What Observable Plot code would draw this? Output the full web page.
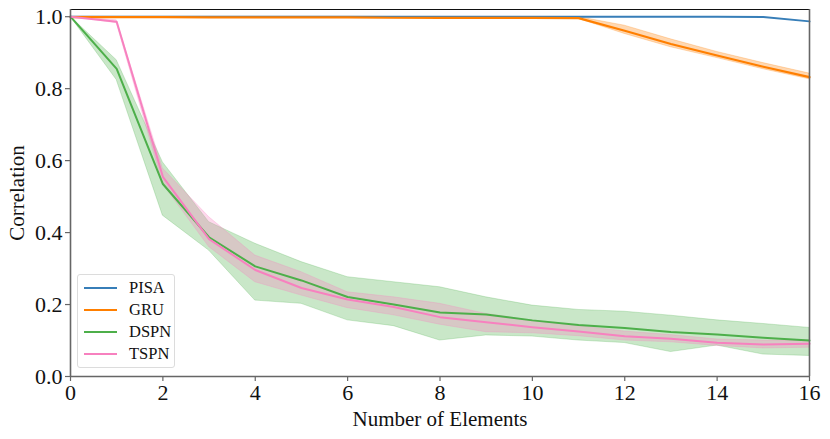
<!DOCTYPE html>
<html>
<head>
<meta charset="utf-8">
<script src="https://cdn.jsdelivr.net/npm/d3@7"></script>
<script src="https://cdn.jsdelivr.net/npm/@observablehq/plot@0.6"></script>
<style>
  html, body { margin: 0; padding: 0; background: #fff; }
  #wrap { position: relative; width: 830px; height: 439px; font-family: "Liberation Serif", "Times New Roman", Times, serif; }
  .legend { position: absolute; left: 77px; top: 274px; width: 98px; height: 94px;
    border: 1px solid #dcdcdc; border-radius: 3px; background: rgba(255,255,255,0.85);
    font-family: "Liberation Serif", "Times New Roman", Times, serif; font-size: 16.5px; color: #111; box-sizing: border-box; }
  .legend .sw { position: absolute; left: 6px; width: 33px; height: 0; border-top: 2px solid; }
  .legend .lab { position: absolute; left: 51px; white-space: nowrap; line-height: 20px; }
  svg text { font-family: "Liberation Serif", "Times New Roman", Times, serif; }
</style>
</head>
<body>
<div id="wrap"></div>
<script>
const xs = [0, 1, 2, 3, 4, 5, 6, 7, 8, 9, 10, 11, 12, 13, 14, 15, 16];
const seriesNames = ["PISA", "GRU", "DSPN", "TSPN"];
const seriesColors = ["#377eb8", "#ff7f00", "#4daf4a", "#f781bf"];
const xLabel = "Number of Elements";
const yLabel = "Correlation";

const pisa   = [1.0, 1.0, 1.0, 1.0, 1.0, 1.0, 1.0, 1.0, 1.0, 1.0, 1.0, 1.0, 1.0, 1.0, 1.0, 0.999, 0.987];

const gru    = [0.999, 0.999, 0.999, 0.998, 0.998, 0.998, 0.998, 0.997, 0.997, 0.997, 0.997, 0.996, 0.961, 0.924, 0.892, 0.861, 0.832];
const gruHi  = [1.0, 1.0, 1.0, 1.0, 1.0, 1.0, 1.0, 0.999, 0.999, 0.999, 0.999, 0.999, 0.975, 0.937, 0.902, 0.871, 0.842];
const gruLo  = [0.998, 0.998, 0.998, 0.997, 0.996, 0.996, 0.996, 0.995, 0.995, 0.995, 0.995, 0.994, 0.952, 0.915, 0.885, 0.854, 0.826];

const dspn   = [1.0, 0.855, 0.535, 0.387, 0.306, 0.267, 0.221, 0.200, 0.178, 0.172, 0.156, 0.143, 0.135, 0.124, 0.117, 0.108, 0.100];
const dspnHi = [1.0, 0.879, 0.595, 0.429, 0.369, 0.318, 0.276, 0.262, 0.248, 0.220, 0.197, 0.185, 0.180, 0.169, 0.156, 0.146, 0.135];
const dspnLo = [1.0, 0.824, 0.447, 0.350, 0.211, 0.202, 0.156, 0.140, 0.100, 0.114, 0.111, 0.100, 0.093, 0.068, 0.086, 0.061, 0.057];

const tspn   = [1.0, 0.986, 0.555, 0.382, 0.296, 0.246, 0.214, 0.193, 0.165, 0.151, 0.137, 0.125, 0.112, 0.105, 0.094, 0.089, 0.091];
const tspnHi = [1.0, 0.990, 0.578, 0.443, 0.336, 0.290, 0.234, 0.220, 0.202, 0.174, 0.155, 0.140, 0.125, 0.115, 0.103, 0.100, 0.100];
const tspnLo = [1.0, 0.982, 0.535, 0.360, 0.262, 0.225, 0.190, 0.170, 0.144, 0.123, 0.120, 0.112, 0.100, 0.095, 0.085, 0.078, 0.080];

const xTicks = [0, 2, 4, 6, 8, 10, 12, 14, 16];
const yTicks = [0.0, 0.2, 0.4, 0.6, 0.8, 1.0];

const mk = (m, lo, hi) => xs.map((x, i) => ({x, y: m[i], lo: lo ? lo[i] : m[i], hi: hi ? hi[i] : m[i]}));
const dPisa = mk(pisa);
const dGru = mk(gru, gruLo, gruHi);
const dDspn = mk(dspn, dspnLo, dspnHi);
const dTspn = mk(tspn, tspnLo, tspnHi);

const font = '"Liberation Serif", "Times New Roman", Times, serif';
const spine = "#666";

const band = (d, c) => Plot.areaY(d, {x: "x", y1: "lo", y2: "hi", fill: c, fillOpacity: 0.3, stroke: c, strokeOpacity: 0.25, strokeWidth: 1});
const line = (d, c, w) => Plot.lineY(d, {x: "x", y: "y", stroke: c, strokeWidth: w});

const chart = Plot.plot({
  width: 830,
  height: 439,
  marginLeft: 70,
  marginRight: 21,
  marginTop: 9,
  marginBottom: 63,
  style: {fontFamily: font, background: "#fff", overflow: "visible"},
  x: {domain: [0, 16]},
  y: {domain: [0, 1.02]},
  marks: [
    band(dGru, seriesColors[1]),
    band(dDspn, seriesColors[2]),
    band(dTspn, seriesColors[3]),
    line(dPisa, seriesColors[0], 2),
    line(dGru, seriesColors[1], 2.2),
    line(dDspn, seriesColors[2], 2),
    line(dTspn, seriesColors[3], 2),
    Plot.ruleY([1.02], {stroke: "#111", strokeWidth: 1}),
    Plot.ruleX([16], {stroke: spine, strokeWidth: 1.6}),
    Plot.ruleX([0], {stroke: spine, strokeWidth: 1.6}),
    Plot.ruleY([0], {stroke: spine, strokeWidth: 1.6}),
    Plot.axisX({ticks: xTicks, tickSize: 5, tickPadding: 3, fontSize: 22, stroke: spine, strokeWidth: 1.2, color: "#111", label: null}),
    Plot.axisY({ticks: yTicks, tickFormat: d3.format(".1f"), tickSize: 5, tickPadding: 3, fontSize: 22, stroke: spine, strokeWidth: 1.2, color: "#111", label: null}),
    Plot.text([xLabel], {text: d => d, frameAnchor: "bottom", lineAnchor: "middle", textAnchor: "middle", dy: 43, fontSize: 21, fill: "#111"}),
    Plot.text([yLabel], {text: d => d, frameAnchor: "left", lineAnchor: "middle", textAnchor: "middle", dx: -53, rotate: -90, fontSize: 21, fill: "#111"})
  ]
});
const wrap = document.getElementById("wrap");
wrap.appendChild(chart);

const legend = document.createElement("div");
legend.className = "legend";
const rowsTop = [3, 25, 47, 69];
seriesNames.forEach((n, i) => {
  const sw = document.createElement("div");
  sw.className = "sw";
  sw.style.borderTopColor = seriesColors[i];
  sw.style.top = (rowsTop[i] + 9) + "px";
  const lab = document.createElement("div");
  lab.className = "lab";
  lab.textContent = n;
  lab.style.top = rowsTop[i] + "px";
  legend.appendChild(sw);
  legend.appendChild(lab);
});
wrap.appendChild(legend);
</script>
</body>
</html>
